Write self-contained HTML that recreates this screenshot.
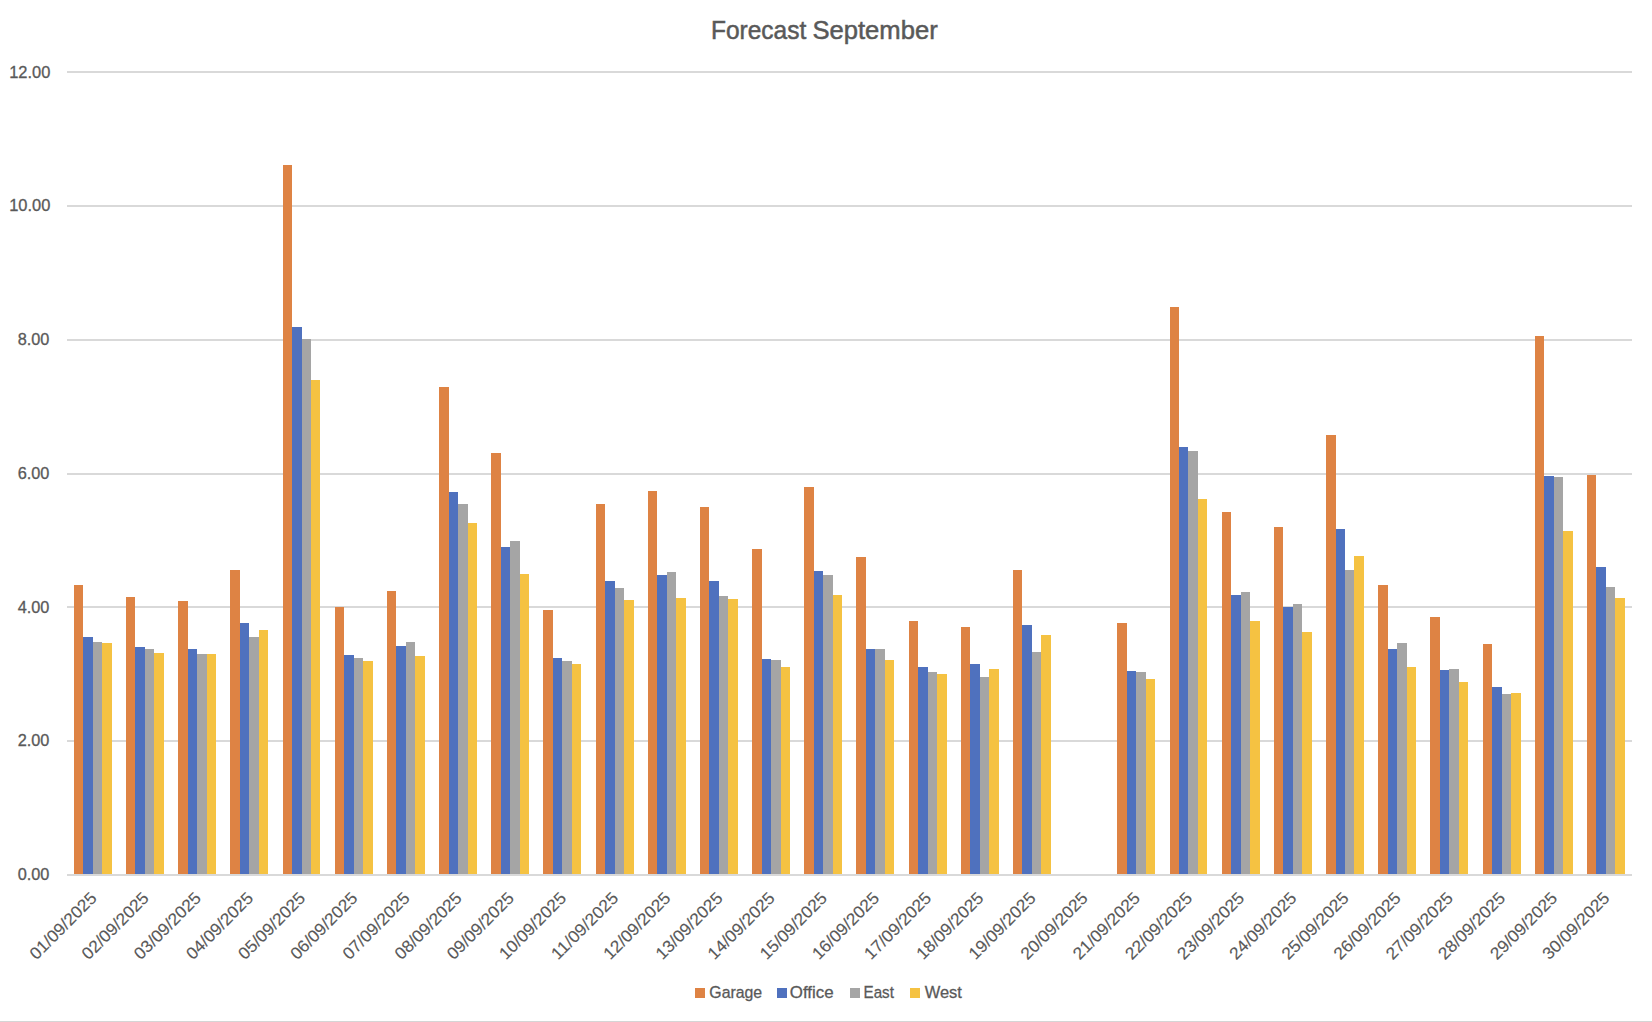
<!DOCTYPE html>
<html lang="en"><head><meta charset="utf-8"><title>Forecast September</title>
<style>html,body{margin:0;padding:0;background:#fff;}body{width:1652px;height:1022px;overflow:hidden;}svg{display:block;}text{font-family:"Liberation Sans",sans-serif;fill:#595959;stroke:#595959;stroke-width:0.3px;}.xl{stroke-width:0.12px;}#title{stroke-width:0.5px;}</style></head><body>
<svg width="1652" height="1022" viewBox="0 0 1652 1022">
<rect x="0" y="0" width="1652" height="1022" fill="#fff"/>
<rect x="67" y="71" width="1565" height="2" fill="#D9D9D9"/>
<rect x="67" y="205" width="1565" height="2" fill="#D9D9D9"/>
<rect x="67" y="339" width="1565" height="2" fill="#D9D9D9"/>
<rect x="67" y="473" width="1565" height="2" fill="#D9D9D9"/>
<rect x="67" y="606" width="1565" height="2" fill="#D9D9D9"/>
<rect x="67" y="740" width="1565" height="2" fill="#D9D9D9"/>
<rect x="74" y="585" width="9" height="289" fill="#DE8344"/>
<rect x="83" y="637" width="10" height="237" fill="#4F71BE"/>
<rect x="93" y="642" width="9" height="232" fill="#A5A5A5"/>
<rect x="102" y="643" width="10" height="231" fill="#F5C242"/>
<rect x="126" y="597" width="9" height="277" fill="#DE8344"/>
<rect x="135" y="647" width="10" height="227" fill="#4F71BE"/>
<rect x="145" y="649" width="9" height="225" fill="#A5A5A5"/>
<rect x="154" y="653" width="10" height="221" fill="#F5C242"/>
<rect x="178" y="601" width="10" height="273" fill="#DE8344"/>
<rect x="188" y="649" width="9" height="225" fill="#4F71BE"/>
<rect x="197" y="654" width="10" height="220" fill="#A5A5A5"/>
<rect x="207" y="654" width="9" height="220" fill="#F5C242"/>
<rect x="230" y="570" width="10" height="304" fill="#DE8344"/>
<rect x="240" y="623" width="9" height="251" fill="#4F71BE"/>
<rect x="249" y="637" width="10" height="237" fill="#A5A5A5"/>
<rect x="259" y="630" width="9" height="244" fill="#F5C242"/>
<rect x="283" y="165" width="9" height="709" fill="#DE8344"/>
<rect x="292" y="327" width="10" height="547" fill="#4F71BE"/>
<rect x="302" y="339" width="9" height="535" fill="#A5A5A5"/>
<rect x="311" y="380" width="9" height="494" fill="#F5C242"/>
<rect x="335" y="607" width="9" height="267" fill="#DE8344"/>
<rect x="344" y="655" width="10" height="219" fill="#4F71BE"/>
<rect x="354" y="658" width="9" height="216" fill="#A5A5A5"/>
<rect x="363" y="661" width="10" height="213" fill="#F5C242"/>
<rect x="387" y="591" width="9" height="283" fill="#DE8344"/>
<rect x="396" y="646" width="10" height="228" fill="#4F71BE"/>
<rect x="406" y="642" width="9" height="232" fill="#A5A5A5"/>
<rect x="415" y="656" width="10" height="218" fill="#F5C242"/>
<rect x="439" y="387" width="10" height="487" fill="#DE8344"/>
<rect x="449" y="492" width="9" height="382" fill="#4F71BE"/>
<rect x="458" y="504" width="10" height="370" fill="#A5A5A5"/>
<rect x="468" y="523" width="9" height="351" fill="#F5C242"/>
<rect x="491" y="453" width="10" height="421" fill="#DE8344"/>
<rect x="501" y="547" width="9" height="327" fill="#4F71BE"/>
<rect x="510" y="541" width="10" height="333" fill="#A5A5A5"/>
<rect x="520" y="574" width="9" height="300" fill="#F5C242"/>
<rect x="543" y="610" width="10" height="264" fill="#DE8344"/>
<rect x="553" y="658" width="9" height="216" fill="#4F71BE"/>
<rect x="562" y="661" width="10" height="213" fill="#A5A5A5"/>
<rect x="572" y="664" width="9" height="210" fill="#F5C242"/>
<rect x="596" y="504" width="9" height="370" fill="#DE8344"/>
<rect x="605" y="581" width="10" height="293" fill="#4F71BE"/>
<rect x="615" y="588" width="9" height="286" fill="#A5A5A5"/>
<rect x="624" y="600" width="10" height="274" fill="#F5C242"/>
<rect x="648" y="491" width="9" height="383" fill="#DE8344"/>
<rect x="657" y="575" width="10" height="299" fill="#4F71BE"/>
<rect x="667" y="572" width="9" height="302" fill="#A5A5A5"/>
<rect x="676" y="598" width="10" height="276" fill="#F5C242"/>
<rect x="700" y="507" width="9" height="367" fill="#DE8344"/>
<rect x="709" y="581" width="10" height="293" fill="#4F71BE"/>
<rect x="719" y="596" width="9" height="278" fill="#A5A5A5"/>
<rect x="728" y="599" width="10" height="275" fill="#F5C242"/>
<rect x="752" y="549" width="10" height="325" fill="#DE8344"/>
<rect x="762" y="659" width="9" height="215" fill="#4F71BE"/>
<rect x="771" y="660" width="10" height="214" fill="#A5A5A5"/>
<rect x="781" y="667" width="9" height="207" fill="#F5C242"/>
<rect x="804" y="487" width="10" height="387" fill="#DE8344"/>
<rect x="814" y="571" width="9" height="303" fill="#4F71BE"/>
<rect x="823" y="575" width="10" height="299" fill="#A5A5A5"/>
<rect x="833" y="595" width="9" height="279" fill="#F5C242"/>
<rect x="856" y="557" width="10" height="317" fill="#DE8344"/>
<rect x="866" y="649" width="9" height="225" fill="#4F71BE"/>
<rect x="875" y="649" width="10" height="225" fill="#A5A5A5"/>
<rect x="885" y="660" width="9" height="214" fill="#F5C242"/>
<rect x="909" y="621" width="9" height="253" fill="#DE8344"/>
<rect x="918" y="667" width="10" height="207" fill="#4F71BE"/>
<rect x="928" y="672" width="9" height="202" fill="#A5A5A5"/>
<rect x="937" y="674" width="10" height="200" fill="#F5C242"/>
<rect x="961" y="627" width="9" height="247" fill="#DE8344"/>
<rect x="970" y="664" width="10" height="210" fill="#4F71BE"/>
<rect x="980" y="677" width="9" height="197" fill="#A5A5A5"/>
<rect x="989" y="669" width="10" height="205" fill="#F5C242"/>
<rect x="1013" y="570" width="9" height="304" fill="#DE8344"/>
<rect x="1022" y="625" width="10" height="249" fill="#4F71BE"/>
<rect x="1032" y="652" width="9" height="222" fill="#A5A5A5"/>
<rect x="1041" y="635" width="10" height="239" fill="#F5C242"/>
<rect x="1117" y="623" width="10" height="251" fill="#DE8344"/>
<rect x="1127" y="671" width="9" height="203" fill="#4F71BE"/>
<rect x="1136" y="672" width="10" height="202" fill="#A5A5A5"/>
<rect x="1146" y="679" width="9" height="195" fill="#F5C242"/>
<rect x="1170" y="307" width="9" height="567" fill="#DE8344"/>
<rect x="1179" y="447" width="9" height="427" fill="#4F71BE"/>
<rect x="1188" y="451" width="10" height="423" fill="#A5A5A5"/>
<rect x="1198" y="499" width="9" height="375" fill="#F5C242"/>
<rect x="1222" y="512" width="9" height="362" fill="#DE8344"/>
<rect x="1231" y="595" width="10" height="279" fill="#4F71BE"/>
<rect x="1241" y="592" width="9" height="282" fill="#A5A5A5"/>
<rect x="1250" y="621" width="10" height="253" fill="#F5C242"/>
<rect x="1274" y="527" width="9" height="347" fill="#DE8344"/>
<rect x="1283" y="607" width="10" height="267" fill="#4F71BE"/>
<rect x="1293" y="604" width="9" height="270" fill="#A5A5A5"/>
<rect x="1302" y="632" width="10" height="242" fill="#F5C242"/>
<rect x="1326" y="435" width="10" height="439" fill="#DE8344"/>
<rect x="1336" y="529" width="9" height="345" fill="#4F71BE"/>
<rect x="1345" y="570" width="9" height="304" fill="#A5A5A5"/>
<rect x="1354" y="556" width="10" height="318" fill="#F5C242"/>
<rect x="1378" y="585" width="10" height="289" fill="#DE8344"/>
<rect x="1388" y="649" width="9" height="225" fill="#4F71BE"/>
<rect x="1397" y="643" width="10" height="231" fill="#A5A5A5"/>
<rect x="1407" y="667" width="9" height="207" fill="#F5C242"/>
<rect x="1430" y="617" width="10" height="257" fill="#DE8344"/>
<rect x="1440" y="670" width="9" height="204" fill="#4F71BE"/>
<rect x="1449" y="669" width="10" height="205" fill="#A5A5A5"/>
<rect x="1459" y="682" width="9" height="192" fill="#F5C242"/>
<rect x="1483" y="644" width="9" height="230" fill="#DE8344"/>
<rect x="1492" y="687" width="10" height="187" fill="#4F71BE"/>
<rect x="1502" y="694" width="9" height="180" fill="#A5A5A5"/>
<rect x="1511" y="693" width="10" height="181" fill="#F5C242"/>
<rect x="1535" y="336" width="9" height="538" fill="#DE8344"/>
<rect x="1544" y="476" width="10" height="398" fill="#4F71BE"/>
<rect x="1554" y="477" width="9" height="397" fill="#A5A5A5"/>
<rect x="1563" y="531" width="10" height="343" fill="#F5C242"/>
<rect x="1587" y="475" width="9" height="399" fill="#DE8344"/>
<rect x="1596" y="567" width="10" height="307" fill="#4F71BE"/>
<rect x="1606" y="587" width="9" height="287" fill="#A5A5A5"/>
<rect x="1615" y="598" width="10" height="276" fill="#F5C242"/>
<rect x="67" y="874" width="1565" height="2" fill="#D9D9D9"/>
<rect x="0" y="1021" width="1652" height="1" fill="#D5D5D5"/>
<text id="title" y="39" font-size="25.2"><tspan x="711.0" textLength="95.3" lengthAdjust="spacingAndGlyphs">Forecast</tspan> <tspan x="812.4" textLength="125.3" lengthAdjust="spacingAndGlyphs">September</tspan></text>
<text class="yl" x="50.4" y="78.1" font-size="16.9" text-anchor="end" textLength="41.2" lengthAdjust="spacingAndGlyphs">12.00</text>
<text class="yl" x="50.4" y="211.2" font-size="16.9" text-anchor="end" textLength="41.2" lengthAdjust="spacingAndGlyphs">10.00</text>
<text class="yl" x="49.4" y="345.1" font-size="16.9" text-anchor="end" textLength="31.75" lengthAdjust="spacingAndGlyphs">8.00</text>
<text class="yl" x="49.4" y="479.1" font-size="16.9" text-anchor="end" textLength="31.75" lengthAdjust="spacingAndGlyphs">6.00</text>
<text class="yl" x="49.4" y="613.1" font-size="16.9" text-anchor="end" textLength="31.75" lengthAdjust="spacingAndGlyphs">4.00</text>
<text class="yl" x="49.4" y="746.1" font-size="16.9" text-anchor="end" textLength="31.75" lengthAdjust="spacingAndGlyphs">2.00</text>
<text class="yl" x="49.4" y="880.2" font-size="16.9" text-anchor="end" textLength="31.75" lengthAdjust="spacingAndGlyphs">0.00</text>
<text class="xl" transform="translate(97.70,899.2) rotate(-45)" font-size="16.9" text-anchor="end" textLength="86.65" lengthAdjust="spacingAndGlyphs">01/09/2025</text>
<text class="xl" transform="translate(149.87,899.2) rotate(-45)" font-size="16.9" text-anchor="end" textLength="86.65" lengthAdjust="spacingAndGlyphs">02/09/2025</text>
<text class="xl" transform="translate(202.03,899.2) rotate(-45)" font-size="16.9" text-anchor="end" textLength="86.65" lengthAdjust="spacingAndGlyphs">03/09/2025</text>
<text class="xl" transform="translate(254.20,899.2) rotate(-45)" font-size="16.9" text-anchor="end" textLength="86.65" lengthAdjust="spacingAndGlyphs">04/09/2025</text>
<text class="xl" transform="translate(306.37,899.2) rotate(-45)" font-size="16.9" text-anchor="end" textLength="86.65" lengthAdjust="spacingAndGlyphs">05/09/2025</text>
<text class="xl" transform="translate(358.53,899.2) rotate(-45)" font-size="16.9" text-anchor="end" textLength="86.65" lengthAdjust="spacingAndGlyphs">06/09/2025</text>
<text class="xl" transform="translate(410.70,899.2) rotate(-45)" font-size="16.9" text-anchor="end" textLength="86.65" lengthAdjust="spacingAndGlyphs">07/09/2025</text>
<text class="xl" transform="translate(462.87,899.2) rotate(-45)" font-size="16.9" text-anchor="end" textLength="86.65" lengthAdjust="spacingAndGlyphs">08/09/2025</text>
<text class="xl" transform="translate(515.03,899.2) rotate(-45)" font-size="16.9" text-anchor="end" textLength="86.65" lengthAdjust="spacingAndGlyphs">09/09/2025</text>
<text class="xl" transform="translate(567.20,899.2) rotate(-45)" font-size="16.9" text-anchor="end" textLength="86.65" lengthAdjust="spacingAndGlyphs">10/09/2025</text>
<text class="xl" transform="translate(619.37,899.2) rotate(-45)" font-size="16.9" text-anchor="end" textLength="86.65" lengthAdjust="spacingAndGlyphs">11/09/2025</text>
<text class="xl" transform="translate(671.53,899.2) rotate(-45)" font-size="16.9" text-anchor="end" textLength="86.65" lengthAdjust="spacingAndGlyphs">12/09/2025</text>
<text class="xl" transform="translate(723.70,899.2) rotate(-45)" font-size="16.9" text-anchor="end" textLength="86.65" lengthAdjust="spacingAndGlyphs">13/09/2025</text>
<text class="xl" transform="translate(775.87,899.2) rotate(-45)" font-size="16.9" text-anchor="end" textLength="86.65" lengthAdjust="spacingAndGlyphs">14/09/2025</text>
<text class="xl" transform="translate(828.03,899.2) rotate(-45)" font-size="16.9" text-anchor="end" textLength="86.65" lengthAdjust="spacingAndGlyphs">15/09/2025</text>
<text class="xl" transform="translate(880.20,899.2) rotate(-45)" font-size="16.9" text-anchor="end" textLength="86.65" lengthAdjust="spacingAndGlyphs">16/09/2025</text>
<text class="xl" transform="translate(932.37,899.2) rotate(-45)" font-size="16.9" text-anchor="end" textLength="86.65" lengthAdjust="spacingAndGlyphs">17/09/2025</text>
<text class="xl" transform="translate(984.53,899.2) rotate(-45)" font-size="16.9" text-anchor="end" textLength="86.65" lengthAdjust="spacingAndGlyphs">18/09/2025</text>
<text class="xl" transform="translate(1036.70,899.2) rotate(-45)" font-size="16.9" text-anchor="end" textLength="86.65" lengthAdjust="spacingAndGlyphs">19/09/2025</text>
<text class="xl" transform="translate(1088.87,899.2) rotate(-45)" font-size="16.9" text-anchor="end" textLength="86.65" lengthAdjust="spacingAndGlyphs">20/09/2025</text>
<text class="xl" transform="translate(1141.03,899.2) rotate(-45)" font-size="16.9" text-anchor="end" textLength="86.65" lengthAdjust="spacingAndGlyphs">21/09/2025</text>
<text class="xl" transform="translate(1193.20,899.2) rotate(-45)" font-size="16.9" text-anchor="end" textLength="86.65" lengthAdjust="spacingAndGlyphs">22/09/2025</text>
<text class="xl" transform="translate(1245.37,899.2) rotate(-45)" font-size="16.9" text-anchor="end" textLength="86.65" lengthAdjust="spacingAndGlyphs">23/09/2025</text>
<text class="xl" transform="translate(1297.53,899.2) rotate(-45)" font-size="16.9" text-anchor="end" textLength="86.65" lengthAdjust="spacingAndGlyphs">24/09/2025</text>
<text class="xl" transform="translate(1349.70,899.2) rotate(-45)" font-size="16.9" text-anchor="end" textLength="86.65" lengthAdjust="spacingAndGlyphs">25/09/2025</text>
<text class="xl" transform="translate(1401.87,899.2) rotate(-45)" font-size="16.9" text-anchor="end" textLength="86.65" lengthAdjust="spacingAndGlyphs">26/09/2025</text>
<text class="xl" transform="translate(1454.03,899.2) rotate(-45)" font-size="16.9" text-anchor="end" textLength="86.65" lengthAdjust="spacingAndGlyphs">27/09/2025</text>
<text class="xl" transform="translate(1506.20,899.2) rotate(-45)" font-size="16.9" text-anchor="end" textLength="86.65" lengthAdjust="spacingAndGlyphs">28/09/2025</text>
<text class="xl" transform="translate(1558.37,899.2) rotate(-45)" font-size="16.9" text-anchor="end" textLength="86.65" lengthAdjust="spacingAndGlyphs">29/09/2025</text>
<text class="xl" transform="translate(1610.53,899.2) rotate(-45)" font-size="16.9" text-anchor="end" textLength="86.65" lengthAdjust="spacingAndGlyphs">30/09/2025</text>
<rect x="695" y="988" width="10" height="10" fill="#DE8344"/>
<text class="lg" x="709.3" y="998" font-size="16.9" textLength="52.9" lengthAdjust="spacingAndGlyphs">Garage</text>
<rect x="777" y="988" width="10" height="10" fill="#4F71BE"/>
<text class="lg" x="789.8" y="998" font-size="16.9" textLength="43.8" lengthAdjust="spacingAndGlyphs">Office</text>
<rect x="850" y="988" width="10" height="10" fill="#A5A5A5"/>
<text class="lg" x="863.5" y="998" font-size="16.9" textLength="30.4" lengthAdjust="spacingAndGlyphs">East</text>
<rect x="910" y="988" width="10" height="10" fill="#F5C242"/>
<text class="lg" x="924.7" y="998" font-size="16.9" textLength="37.2" lengthAdjust="spacingAndGlyphs">West</text>
</svg></body></html>
